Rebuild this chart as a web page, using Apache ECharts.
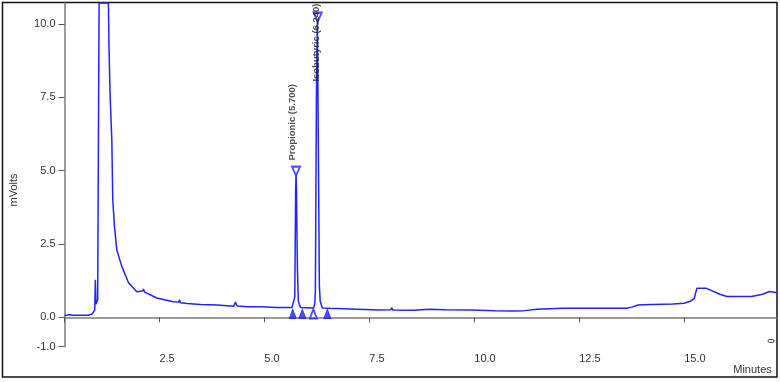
<!DOCTYPE html>
<html lang="en" style="height: 100%">
  <head>
    <meta charset="utf-8" />
    <title>Chromatogram</title>
  </head>
  <body style="height: 100%; margin: 0; background: #fff">
    <div id="container" style="width: 780px; height: 382px"></div>

    <script
      type="text/javascript"
      src="https://fastly.jsdelivr.net/npm/echarts@6/dist/echarts.min.js"
    ></script>

    <script type="text/javascript">
      // detector trace (minutes, mVolts)
      var traceTime = [
        0.24, 0.37, 0.42, 0.8, 0.9, 0.96, 0.975, 0.99, 1.03, 1.064, 1.286,
        1.3, 1.326, 1.367, 1.39, 1.43, 1.486, 1.605, 1.762, 1.962, 2.1, 2.12,
        2.15, 2.44, 2.83, 2.96, 2.98, 3.0, 3.16, 3.48, 3.87, 4.27, 4.31, 4.35,
        4.6, 4.9, 5.3, 5.66, 5.7, 5.725, 5.735, 5.745, 5.755, 5.765, 5.775,
        5.79, 5.81, 5.86, 6.17, 6.2, 6.215, 6.225, 6.24, 6.262, 6.28, 6.295,
        6.31, 6.33, 6.38, 6.56, 7.2, 7.75, 8.01, 8.03, 8.06, 8.54, 8.94, 9.3,
        9.9, 10.5, 10.92, 11.2, 11.49, 12.12, 13.0, 13.63, 13.75, 13.9, 14.02,
        14.73, 15.0, 15.16, 15.24, 15.3, 15.53, 15.85, 16.02, 16.6, 16.87,
        17.03, 17.21
      ];
      var traceMv = [
        0.06, 0.1, 0.07, 0.07, 0.12, 0.25, 1.28, 0.45, 0.6, 10.72, 10.72,
        9.2, 7.58, 6.05, 4.0, 3.1, 2.3, 1.74, 1.19, 0.87, 0.9, 0.97,
        0.86, 0.66, 0.53, 0.52, 0.6, 0.5, 0.47, 0.44, 0.42, 0.38, 0.52, 0.39,
        0.36, 0.36, 0.34, 0.34, 0.4, 0.7, 2.5, 4.3, 4.85, 4.4, 3.0,
        1.5, 0.55, 0.34, 0.32, 0.45, 0.9, 3.5, 7.5, 10.1, 7.0, 4.0,
        1.1, 0.55, 0.32, 0.31, 0.28, 0.25, 0.26, 0.33, 0.25, 0.24, 0.28, 0.26,
        0.25, 0.23, 0.22, 0.23, 0.28, 0.31, 0.31, 0.31, 0.35, 0.42, 0.43,
        0.46, 0.48, 0.56, 0.65, 0.99, 0.99, 0.79, 0.71, 0.71, 0.79,
        0.88, 0.84
      ];

      // identified peaks
      var peakNames = ["Propionic (5.700)", "Isobutyric (6.240)"];
      var peakTime = [5.755, 6.271];
      var peakMv = [4.85, 10.1];

      // peak start / end markers on the baseline
      var edgeTime = [5.676, 5.905, 6.167, 6.5];
      var edgeMv = [0.12, 0.12, 0.12, 0.12];
      var edgeFilled = [true, true, false, true];

      var xTicks = [0.24, 2.5, 5.0, 7.5, 10.0, 12.5, 15.0];
      var xLabels = [2.5, 5.0, 7.5, 10.0, 12.5, 15.0];
      var yTicks = [-1.0, 0.0, 2.5, 5.0, 7.5, 10.0];

      var blue = "#2222ff";
      var axisGrey = "#7a7a7a";
      var txt = "#333";
      var font = "Liberation Sans";

      var dom = document.getElementById("container");
      var myChart = echarts.init(dom, null, { renderer: "canvas" });

      var trace = traceTime.map(function (t, i) {
        return [t, traceMv[i]];
      });

      // label offsets are in the rotated text frame: [along text, across text]
      // second label is pulled down so it stays under the top edge
      var peakLabelOffset = [
        [0, -4],
        [-75, -1],
      ];
      var peaks = peakTime.map(function (t, i) {
        return {
          name: peakNames[i],
          value: [t, peakMv[i]],
          label: { offset: peakLabelOffset[i] },
        };
      });

      var edges = edgeTime.map(function (t, i) {
        return {
          value: [t, edgeMv[i]],
          symbol: edgeFilled[i] ? "triangle" : "emptyTriangle",
        };
      });

      var option = {
        animation: false,
        grid: { left: 64.5, right: 3, top: 3, bottom: 35.3 },
        xAxis: {
          type: "value",
          min: 0.24,
          max: 17.21,
          splitLine: { show: false },
          axisLine: { lineStyle: { color: axisGrey, width: 1.5 } },
          axisTick: {
            customValues: xTicks,
            length: 5,
            lineStyle: { color: "#555", width: 1 },
          },
          axisLabel: {
            customValues: xLabels,
            formatter: function (v) {
              return v.toFixed(1);
            },
            align: "left",
            margin: 7,
            fontSize: 11,
            fontFamily: font,
            color: txt,
          },
        },
        yAxis: {
          type: "value",
          min: -1,
          max: 10.72,
          splitLine: { show: false },
          axisLine: { lineStyle: { color: axisGrey, width: 1.5 } },
          axisTick: {
            customValues: yTicks,
            length: 6,
            lineStyle: { color: "#555", width: 1 },
          },
          axisLabel: {
            customValues: yTicks,
            formatter: function (v) {
              return v.toFixed(1);
            },
            margin: 9,
            fontSize: 11,
            fontFamily: font,
            color: txt,
          },
        },
        graphic: [
          {
            type: "rect",
            shape: { x: 2.5, y: 2.5, width: 774.5, height: 374.5 },
            style: { fill: "none", stroke: "#111", lineWidth: 1.5 },
            silent: true,
          },
          {
            type: "text",
            x: 13.5,
            y: 190,
            rotation: Math.PI / 2,
            style: {
              text: "mVolts",
              fontSize: 11,
              fontFamily: font,
              fill: txt,
              align: "center",
              verticalAlign: "middle",
            },
          },
          {
            type: "text",
            x: 752.5,
            y: 370,
            style: {
              text: "Minutes",
              fontSize: 11,
              fontFamily: font,
              fill: txt,
              align: "center",
              verticalAlign: "middle",
            },
          },
          {
            type: "rect",
            shape: { x: 768, y: 339.5, width: 6, height: 3, r: 1.5 },
            style: { fill: "none", stroke: "#444", lineWidth: 1 },
          },
        ],
        series: [
          {
            name: "trace",
            type: "line",
            data: trace,
            showSymbol: false,
            symbol: "none",
            clip: true,
            lineStyle: { color: blue, width: 1.5 },
          },
          {
            name: "peaks",
            type: "scatter",
            data: peaks,
            symbol: "emptyTriangle",
            symbolRotate: 180,
            symbolSize: [8, 9],
            symbolOffset: [0, -4],
            itemStyle: { color: blue, borderColor: blue, borderWidth: 1 },
            label: {
              show: true,
              position: "top",
              distance: 5,
              rotate: 90,
              align: "left",
              verticalAlign: "middle",
              formatter: "{b}",
              fontSize: 9.5,
              fontWeight: "bold",
              fontFamily: font,
              color: "#222",
            },
            z: 3,
          },
          {
            name: "edges",
            type: "scatter",
            data: edges,
            symbolSize: [7, 9],
            itemStyle: { color: blue, borderColor: blue, borderWidth: 1 },
            z: 3,
          },
        ],
      };

      myChart.setOption(option);
      window.addEventListener("resize", myChart.resize);
    </script>
  </body>
</html>
